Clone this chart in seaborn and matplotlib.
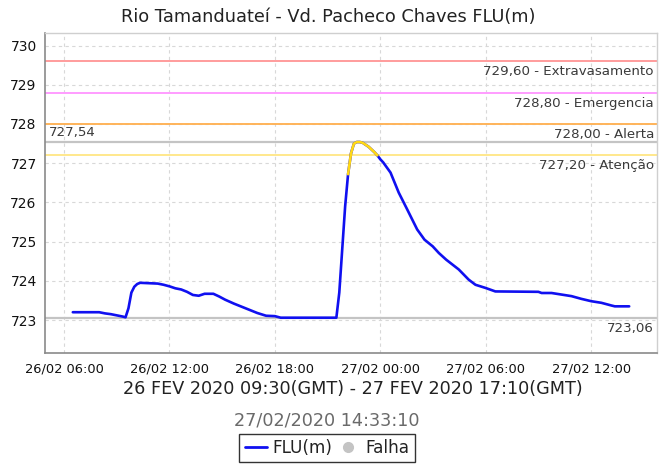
import matplotlib
matplotlib.use("Agg")
import matplotlib.pyplot as plt
import matplotlib.dates as mdates
from matplotlib.lines import Line2D
import seaborn as sns
import pandas as pd

# Water level readings (local time) - Rio Tamanduateí, Vd. Pacheco Chaves
times = [
    "2020-02-26 06:30", "2020-02-26 08:00", "2020-02-26 08:20", "2020-02-26 08:40",
    "2020-02-26 09:00", "2020-02-26 09:20", "2020-02-26 09:30", "2020-02-26 09:40",
    "2020-02-26 09:50", "2020-02-26 10:00", "2020-02-26 10:10", "2020-02-26 10:20",
    "2020-02-26 11:20", "2020-02-26 11:40", "2020-02-26 12:00", "2020-02-26 12:20",
    "2020-02-26 12:40", "2020-02-26 13:00", "2020-02-26 13:20", "2020-02-26 13:40",
    "2020-02-26 14:00", "2020-02-26 14:30", "2020-02-26 14:50", "2020-02-26 15:10",
    "2020-02-26 15:40", "2020-02-26 16:20", "2020-02-26 17:00", "2020-02-26 17:30",
    "2020-02-26 18:00", "2020-02-26 18:20", "2020-02-26 21:20", "2020-02-26 21:30",
    "2020-02-26 21:40", "2020-02-26 21:50", "2020-02-26 22:00", "2020-02-26 22:10",
    "2020-02-26 22:20", "2020-02-26 22:30", "2020-02-26 22:40", "2020-02-26 22:50",
    "2020-02-26 23:00", "2020-02-26 23:10", "2020-02-26 23:20", "2020-02-26 23:30",
    "2020-02-26 23:40", "2020-02-26 23:50", "2020-02-27 00:00", "2020-02-27 00:10",
    "2020-02-27 00:35", "2020-02-27 01:03", "2020-02-27 01:32", "2020-02-27 02:06",
    "2020-02-27 02:31", "2020-02-27 02:59", "2020-02-27 03:20", "2020-02-27 03:45",
    "2020-02-27 04:28", "2020-02-27 05:02", "2020-02-27 05:25", "2020-02-27 05:59",
    "2020-02-27 06:33", "2020-02-27 09:00", "2020-02-27 09:11", "2020-02-27 09:45",
    "2020-02-27 10:19", "2020-02-27 10:53", "2020-02-27 11:27", "2020-02-27 12:01",
    "2020-02-27 12:35", "2020-02-27 13:10", "2020-02-27 13:21", "2020-02-27 14:10",
]
levels = [
    723.20, 723.20, 723.17, 723.15,
    723.12, 723.09, 723.07, 723.30,
    723.70, 723.85, 723.92, 723.95,
    723.93, 723.90, 723.86, 723.81,
    723.78, 723.72, 723.64, 723.62,
    723.67, 723.67, 723.60, 723.52,
    723.42, 723.30, 723.18, 723.11,
    723.10, 723.06, 723.06, 723.06,
    723.70, 724.80, 725.90, 726.72,
    727.25, 727.50, 727.54, 727.54,
    727.52, 727.47, 727.42, 727.35,
    727.28, 727.20, 727.10, 727.02,
    726.76, 726.25, 725.82, 725.31,
    725.05, 724.88, 724.71, 724.54,
    724.29, 724.03, 723.90, 723.82,
    723.73, 723.72, 723.69, 723.69,
    723.65, 723.61, 723.54, 723.48,
    723.44, 723.37, 723.35, 723.35,
]

# Reference levels
limit_values = [729.60, 728.80, 728.00, 727.20]
limit_names = ["Extravasamento", "Emergencia", "Alerta", "Atenção"]
limit_colors = ["#FF9C9C", "#FF9CFF", "#FFB45A", "#FFE88C"]
attention_level = 727.20

title = "Rio Tamanduateí - Vd. Pacheco Chaves FLU(m)"
period = "26 FEV 2020 09:30(GMT) - 27 FEV 2020 17:10(GMT)"
stamp = "27/02/2020 14:33:10"

df = pd.DataFrame({"time": pd.to_datetime(times), "level": levels})
max_level = df["level"].max()
min_level = df["level"].min()

sns.set_style("white")
plt.rcParams["font.family"] = ["DejaVu Sans"]

fig = plt.figure(figsize=(6.61, 4.65), dpi=100)
ax = fig.add_axes([45 / 661, 1 - 353 / 465, (657 - 45) / 661, (353 - 33) / 465])

# threshold lines
for v, c in zip(limit_values, limit_colors):
    ax.axhline(v, color=c, lw=1.4, zorder=1)
ax.axhline(max_level, color="#C4C4C4", lw=1.6, zorder=1)
ax.axhline(min_level, color="#C4C4C4", lw=1.6, zorder=1)

# level series, segments above the attention level in yellow
sns.lineplot(data=df, x="time", y="level", color="#1010F0", lw=1.9, ax=ax, zorder=3)
idx = df.index[df["level"] >= attention_level]
hi = df.loc[idx.min() - 1: idx.max()]
sns.lineplot(data=hi, x="time", y="level", color="#FFD814", lw=1.9, ax=ax, zorder=4)

ax.set_ylim(722.16, 730.32)
ax.margins(x=0.05)
ax.set_yticks(range(723, 731))
ax.xaxis.set_major_locator(mdates.HourLocator(byhour=[0, 6, 12, 18]))
ax.xaxis.set_major_formatter(mdates.DateFormatter("%d/%m %H:%M"))
ax.grid(True, color="#D8D8D8", ls=(0, (3, 3)), lw=0.8)
ax.set_axisbelow(True)

for s in ["left", "bottom"]:
    ax.spines[s].set_color("#8A8A8A")
    ax.spines[s].set_linewidth(1.2)
for s in ["top", "right"]:
    ax.spines[s].set_color("#CFCFCF")
    ax.spines[s].set_linewidth(1.0)
ax.tick_params(axis="both", direction="out", length=4, width=0.8, color="#8A8A8A",
               labelcolor="#111111")
ax.tick_params(axis="y", labelsize=10, pad=2)
ax.tick_params(axis="x", labelsize=9.4, pad=3)
ax.set_xlabel("")
ax.set_ylabel("")

# labels for reference lines
tr = ax.get_yaxis_transform()
lab_kw = dict(fontsize=9.6, color="#3A3A3A")
for v, n in zip(limit_values, limit_names):
    ax.text(0.995, v - 0.1, f"{v:.2f}".replace(".", ",") + " - " + n, transform=tr,
            ha="right", va="top", **lab_kw)
ax.text(0.007, max_level + 0.07, f"{max_level:.2f}".replace(".", ","), transform=tr,
        ha="left", va="bottom", **lab_kw)
ax.text(0.995, min_level - 0.12, f"{min_level:.2f}".replace(".", ","), transform=tr,
        ha="right", va="top", **lab_kw)

fig.text(328 / 661, 1 - 17 / 465, title, ha="center", va="center", fontsize=12.8,
         color="#222222")
fig.text(353 / 661, 1 - 389 / 465, period, ha="center", va="center", fontsize=12.7,
         color="#222222")
fig.text(327 / 661, 1 - 420 / 465, stamp, ha="center", va="center", fontsize=12.7,
         color="#6A6A6A")

handles = [Line2D([], [], color="#1010F0", lw=2),
           Line2D([], [], color="#C4C4C4", marker="o", ls="none", markersize=7)]
leg = fig.legend(handles, ["FLU(m)", "Falha"], loc="center", ncol=2,
                 bbox_to_anchor=(327 / 661, 1 - 448 / 465), fontsize=12.2,
                 frameon=True, fancybox=False, edgecolor="black", handlelength=1.3,
                 handletextpad=0.35, columnspacing=0.3, borderpad=0.3,
                 borderaxespad=0, handleheight=0.7)
leg.get_frame().set_linewidth(1.0)
for t in leg.get_texts():
    t.set_color("#222222")

fig.savefig("out.png", dpi=100, facecolor="white")
